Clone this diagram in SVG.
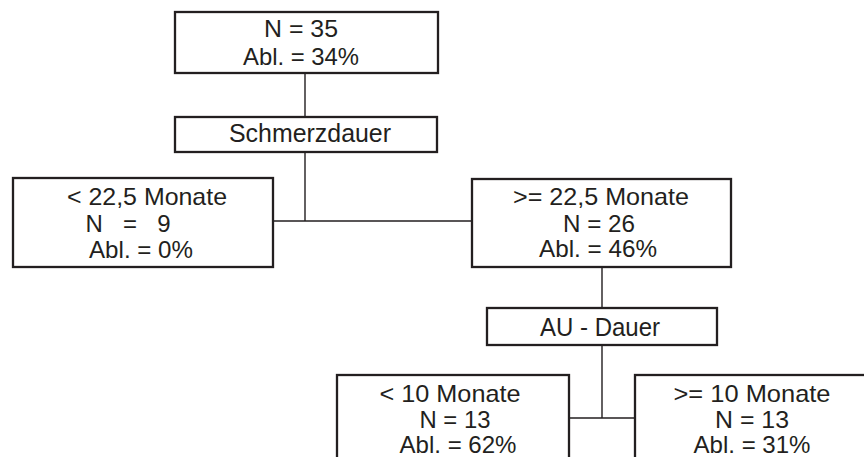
<svg xmlns="http://www.w3.org/2000/svg" width="864" height="457" viewBox="0 0 864 457">
<style>
.box{fill:#fff;stroke:#231f20;stroke-width:2.3}
.con{fill:none;stroke:#231f20;stroke-width:1.4}
text{font-family:"Liberation Sans",Arial,sans-serif;font-size:24px;fill:#231f20;text-anchor:middle}
.h{font-size:25px}
</style>
<rect width="864" height="457" fill="#fff"/>
<g id="connectors">
<path class="con" d="M305 73V117M305 152V221M273 221H472M602 267V308M602 345V418M569 418H635"/>
</g>
<g id="root">
<rect class="box" x="175" y="12" width="263" height="61"/>
<text x="301" y="37" textLength="74" lengthAdjust="spacingAndGlyphs">N = 35</text>
<text x="301" y="65" textLength="116" lengthAdjust="spacingAndGlyphs">Abl. = 34%</text>
</g>
<g id="split1">
<rect class="box" x="175" y="117" width="262" height="35"/>
<text class="h" x="310" y="142" textLength="162" lengthAdjust="spacingAndGlyphs">Schmerzdauer</text>
</g>
<g id="left1">
<rect class="box" x="13" y="178" width="260" height="89"/>
<text x="147" y="205" textLength="160" lengthAdjust="spacingAndGlyphs">&lt; 22,5 Monate</text>
<text x="128" y="232" textLength="85">N = 9</text>
<text x="141" y="258" textLength="104" lengthAdjust="spacingAndGlyphs">Abl. = 0%</text>
</g>
<g id="right1">
<rect class="box" x="472" y="179" width="259" height="88"/>
<text x="601" y="205" textLength="176" lengthAdjust="spacingAndGlyphs">&gt;= 22,5 Monate</text>
<text x="599" y="232" textLength="72" lengthAdjust="spacingAndGlyphs">N = 26</text>
<text x="598" y="257" textLength="118" lengthAdjust="spacingAndGlyphs">Abl. = 46%</text>
</g>
<g id="split2">
<rect class="box" x="487" y="308" width="230" height="37"/>
<text class="h" x="600" y="336" textLength="120" lengthAdjust="spacingAndGlyphs">AU - Dauer</text>
</g>
<g id="left2">
<rect class="box" x="337" y="375" width="232" height="100"/>
<text x="450" y="402" textLength="141" lengthAdjust="spacingAndGlyphs">&lt; 10 Monate</text>
<text x="455" y="428" textLength="71" lengthAdjust="spacingAndGlyphs">N = 13</text>
<text x="458" y="453" textLength="117" lengthAdjust="spacingAndGlyphs">Abl. = 62%</text>
</g>
<g id="right2">
<rect class="box" x="635" y="375" width="250" height="100"/>
<text x="752" y="402" textLength="157" lengthAdjust="spacingAndGlyphs">&gt;= 10 Monate</text>
<text x="752" y="428" textLength="74" lengthAdjust="spacingAndGlyphs">N = 13</text>
<text x="752" y="453" textLength="117" lengthAdjust="spacingAndGlyphs">Abl. = 31%</text>
</g>
</svg>
